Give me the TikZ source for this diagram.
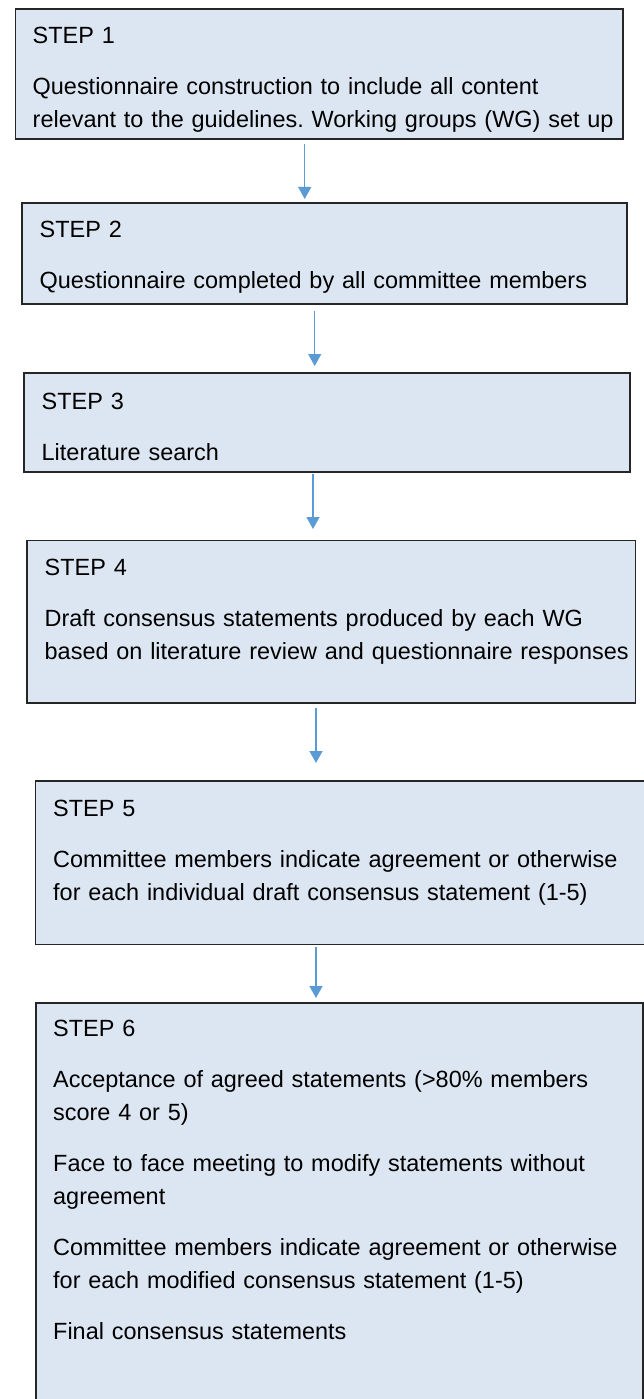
\documentclass[tikz,border=0pt]{standalone}
\usepackage{fontspec}
\setmainfont{Liberation Sans}
\frenchspacing
\usetikzlibrary{arrows.meta}
\definecolor{boxfill}{HTML}{DCE6F2}
\definecolor{arrowblue}{HTML}{5B9BD5}
\begin{document}
\begin{tikzpicture}[x=1pt,y=-1pt,
  stepbox/.style={draw=black!85, line width=1.5pt, fill=boxfill, rectangle, inner sep=0pt, outer sep=0pt, anchor=north west},
  steptext/.style={anchor=base west, inner sep=0pt, text width=600pt, align=left, font=\fontsize{23.45}{33}\selectfont\frenchspacing},
  flow/.style={draw=arrowblue, line width=1.3pt, -{Triangle[width=13pt,length=12pt]}}]
\useasboundingbox (0,0) rectangle (644,1399);
\clip (0,0) rectangle (644,1399);
\fill[white] (0,0) rectangle (644,1399);

\node[stepbox, minimum width=607.4pt, minimum height=130pt]   (b1) at (15.6,9) {};
\node[stepbox, minimum width=605.2pt, minimum height=101pt]   (b2) at (21.8,203) {};
\node[stepbox, minimum width=606.2pt, minimum height=99pt]    (b3) at (23.8,373) {};
\node[stepbox, minimum width=608.6pt, minimum height=162.5pt] (b4) at (27,540.5) {};
\node[stepbox, minimum width=611.3pt, minimum height=163.5pt] (b5) at (35.7,781) {};
\node[stepbox, minimum width=607pt,   minimum height=420pt]   (b6) at (36,1003) {};

\node[steptext] (t1) at (32.5,43.5) {STEP 1\\[18pt]Questionnaire construction to include all content\\relevant to the guidelines. Working groups (WG) set up};
\node[steptext] (t2) at (39.5,237.5) {STEP 2\\[18pt]Questionnaire completed by all committee members};
\node[steptext] (t3) at (41.5,409.5) {STEP 3\\[18pt]Literature search};
\node[steptext] (t4) at (44.5,575.5) {STEP 4\\[18pt]Draft consensus statements produced by each WG\\based on literature review and questionnaire responses};
\node[steptext] (t5) at (53,816) {STEP 5\\[18pt]Committee members indicate agreement or otherwise\\for each individual draft consensus statement (1-5)};
\node[steptext] (t6) at (53,1036.5) {STEP 6\\[18pt]Acceptance of agreed statements (>80\% members\\score 4 or 5)\\[18pt]Face to face meeting to modify statements without\\agreement\\[18pt]Committee members indicate agreement or otherwise\\for each modified consensus statement (1-5)\\[18pt]Final consensus statements};

\draw[flow, shorten <=5pt, shorten >=4pt] ([xshift=-14.6pt]b1.south) -- ([xshift=-14.6pt]b1.south |- b2.north);
\draw[flow, shorten <=7pt, shorten >=7pt] ([xshift=-9.7pt]b2.south) -- ([xshift=-9.7pt]b2.south |- b3.north);
\draw[flow, shorten <=2pt, shorten >=11.5pt] ([xshift=-13.9pt]b3.south) -- ([xshift=-13.9pt]b3.south |- b4.north);
\draw[flow, shorten <=5pt, shorten >=18pt] ([xshift=-15.3pt]b4.south) -- ([xshift=-15.3pt]b4.south |- b5.north);
\draw[flow, shorten <=2.5pt, shorten >=5pt] ([xshift=-25.35pt]b5.south) -- ([xshift=-25.35pt]b5.south |- b6.north);
\end{tikzpicture}
\end{document}
